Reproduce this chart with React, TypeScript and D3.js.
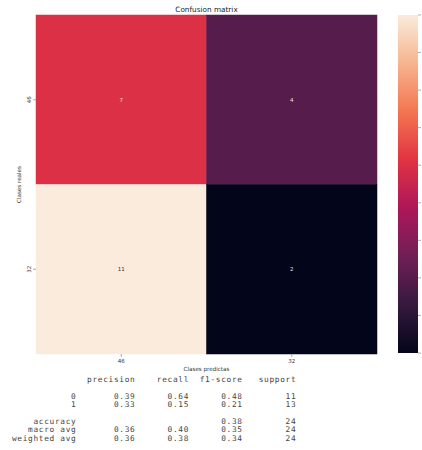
import React from "react";
import * as d3 from "d3";

const classes = ["46", "32"];
const matrix = [
  [7, 4],
  [11, 2],
];
const cbarTicks = [2, 3, 4, 5, 6, 7, 8, 9, 10, 11];

const reportHeader = ["precision", "recall", "f1-score", "support"];
const reportLabels = ["0", "1", "accuracy", "macro avg", "weighted avg"];
const precisionVals = ["0.39", "0.33", "", "0.36", "0.36"];
const recallVals = ["0.64", "0.15", "", "0.40", "0.38"];
const f1Vals = ["0.48", "0.21", "0.38", "0.35", "0.34"];
const supportVals = ["11", "13", "24", "24", "24"];

const rocketStops = [
  "#03051a",
  "#35193e",
  "#701f57",
  "#ad1759",
  "#e13342",
  "#f37651",
  "#f6b48f",
  "#faebdd",
];

const W = 422;
const H = 450;

export default function App() {
  const left = 36,
    right = 377,
    top = 15,
    bottom = 354;
  const vmin = 2,
    vmax = 11;
  const x = d3.scaleBand().domain(classes).range([left, right]);
  const y = d3.scaleBand().domain(classes).range([top, bottom]);
  const rocket = d3.scaleLinear<string>()
    .domain(rocketStops.map((_, i) => i / (rocketStops.length - 1)))
    .range(rocketStops)
    .interpolate(d3.interpolateRgb);
  const color = (v: number) => rocket((v - vmin) / (vmax - vmin));

  const cbL = 398,
    cbR = 418,
    cbT = 15,
    cbB = 353;
  const cy = d3.scaleLinear().domain([vmin, vmax]).range([cbB, cbT]);

  const pad = (s: string, n: number) => s.padStart(n, " ");
  const lines: string[] = [];
  lines.push(" ".repeat(13) + reportHeader.map((h) => " " + pad(h, 9)).join(""));
  lines.push("");
  reportLabels.forEach((lab, i) => {
    if (i === 2) lines.push("");
    lines.push(
      pad(lab, 12) +
        " " +
        " " + pad(precisionVals[i], 9) +
        " " + pad(recallVals[i], 9) +
        " " + pad(f1Vals[i], 9) +
        " " + pad(supportVals[i], 9)
    );
  });

  const gradStops = d3.range(0, 1.0001, 0.02);

  return (
    <svg
      width={W}
      height={H}
      style={{ position: "absolute", left: 0, top: 0, background: "#fff" }}
      fontFamily="DejaVu Sans, sans-serif"
    >
      <defs>
        <linearGradient id="cb" x1="0" y1="1" x2="0" y2="0">
          {gradStops.map((t) => (
            <stop key={t} offset={t} stopColor={rocket(t)} />
          ))}
        </linearGradient>
      </defs>
      <text x={206.5} y={12} textAnchor="middle" fontSize={7.3} fill="#222">
        Confusion matrix
      </text>
      {matrix.map((row, i) =>
        row.map((v, j) => (
          <g key={`${i}-${j}`}>
            <rect
              x={x(classes[j])!}
              y={y(classes[i])!}
              width={x.bandwidth()}
              height={y.bandwidth()}
              fill={color(v)}
              stroke={color(v)}
              strokeWidth={0.5}
            />
            <text
              x={x(classes[j])! + x.bandwidth() / 2}
              y={y(classes[i])! + y.bandwidth() / 2}
              textAnchor="middle"
              dominantBaseline="central"
              fontSize={5.5}
              fill={(v - vmin) / (vmax - vmin) > 0.6 ? "#333" : "#f4dede"}
            >
              {v}
            </text>
          </g>
        ))
      )}
      {classes.map((c) => (
        <g key={"xt" + c}>
          <line
            x1={x(c)! + x.bandwidth() / 2}
            x2={x(c)! + x.bandwidth() / 2}
            y1={bottom}
            y2={bottom + 3}
            stroke="#777"
            strokeWidth={0.6}
          />
          <text
            x={x(c)! + x.bandwidth() / 2}
            y={bottom + 9}
            textAnchor="middle"
            fontSize={5.5}
            fill="#333"
          >
            {c}
          </text>
          <line
            x1={left - 3}
            x2={left}
            y1={y(c)! + y.bandwidth() / 2}
            y2={y(c)! + y.bandwidth() / 2}
            stroke="#777"
            strokeWidth={0.6}
          />
          <text
            transform={`translate(${left - 7},${y(c)! + y.bandwidth() / 2}) rotate(-90)`}
            textAnchor="middle"
            dominantBaseline="central"
            fontSize={5.5}
            fill="#333"
          >
            {c}
          </text>
        </g>
      ))}
      <text x={206.5} y={371} textAnchor="middle" fontSize={5.6} fill="#333">
        Clases predictas
      </text>
      <text
        transform={`translate(19,${(top + bottom) / 2}) rotate(-90)`}
        textAnchor="middle"
        dominantBaseline="central"
        fontSize={5.6}
        fill="#333"
      >
        Clases reales
      </text>
      <rect x={cbL} y={cbT} width={cbR - cbL} height={cbB - cbT} fill="url(#cb)" />
      {cbarTicks.map((t) => (
        <line
          key={"cb" + t}
          x1={cbR}
          x2={cbR + 3}
          y1={cy(t)}
          y2={cy(t)}
          stroke="#777"
          strokeWidth={0.6}
        />
      ))}
      {lines.map((l, i) =>
        l.length === 0 ? null : (
          <text
            key={"r" + i}
            x={12}
            y={382 + i * 8.4}
            fontFamily="DejaVu Sans Mono, monospace"
            fontSize={7.8}
            letterSpacing={0.67}
            fill="#444"
            style={{ whiteSpace: "pre" }}
          >
            {l}
          </text>
        )
      )}
    </svg>
  );
}
